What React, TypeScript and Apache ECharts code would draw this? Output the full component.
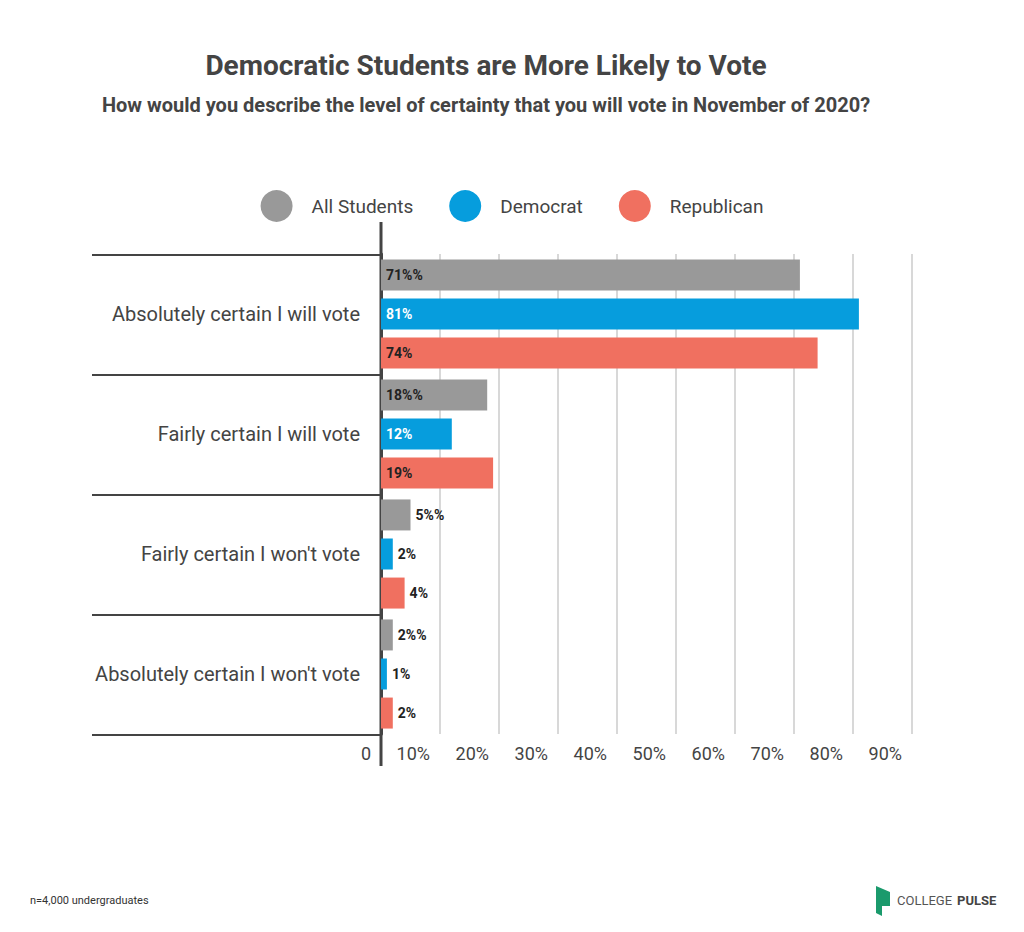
import React, { useEffect, useRef } from 'react';
import * as echarts from 'echarts';

const categories = [
  'Absolutely certain I will vote',
  'Fairly certain I will vote',
  "Fairly certain I won't vote",
  "Absolutely certain I won't vote",
];
const allStudents = [71, 18, 5, 2];
const democrat = [81, 12, 2, 1];
const republican = [74, 19, 4, 2];
const xTicks = [0, 10, 20, 30, 40, 50, 60, 70, 80, 90];

const FONT = 'Roboto, "Noto Sans", sans-serif';

const barData = (vals: number[], suffix: string, insideColor: string) =>
  vals.map((v) => ({
    value: v,
    label: v >= 10
      ? { position: 'insideLeft', distance: 5, color: insideColor, formatter: `${v}${suffix}` }
      : { position: 'right', distance: 5, color: '#222', formatter: `${v}${suffix}` },
  }));

const App: React.FC = () => {
  const ref = useRef<HTMLDivElement>(null);

  useEffect(() => {
    document.body.style.margin = '0';
    if (!ref.current) return;
    const chart = echarts.init(ref.current, null, { renderer: 'svg' });
    const seriesBase = {
      type: 'bar',
      barWidth: 31,
      barGap: '26%',
      label: { show: true, fontFamily: FONT, fontSize: 14, fontWeight: 'bold' },
    };
    chart.setOption({
      animation: false,
      backgroundColor: '#fff',
      title: [
        {
          text: 'Democratic Students are More Likely to Vote',
          left: 481, top: 46, textAlign: 'center',
          textStyle: { fontFamily: FONT, fontSize: 28, fontWeight: 'bold', color: '#444' },
        },
        {
          text: 'How would you describe the level of certainty that you will vote in November of 2020?',
          left: 481, top: 90, textAlign: 'center',
          textStyle: { fontFamily: FONT, fontSize: 20, fontWeight: 'bold', color: '#444' },
        },
      ],
      legend: {
        top: 185, left: 'center',
        icon: 'circle', itemWidth: 32, itemHeight: 32, itemGap: 36,
        textStyle: { fontFamily: FONT, fontSize: 19, color: '#444', padding: [0, 0, 0, 14] },
        data: ['All Students', 'Democrat', 'Republican'],
      },
      grid: { left: 381, right: 112, top: 254, bottom: 198 },
      xAxis: {
        type: 'value', min: 0, max: 90, interval: 10,
        axisLine: { show: false },
        axisTick: { show: false },
        splitLine: { show: true, lineStyle: { color: '#d8d8d8', width: 2 } },
        axisLabel: {
          align: 'right', margin: 10, padding: [0, 10, 0, 0],
          fontFamily: FONT, fontSize: 18, color: '#444',
          formatter: (v: number) => (xTicks.includes(v) ? (v === 0 ? '0' : `${v}%`) : ''),
        },
      },
      yAxis: {
        type: 'category', data: categories, inverse: true,
        axisLine: { show: true, lineStyle: { color: '#444', width: 3 } },
        axisTick: { show: false },
        axisLabel: { margin: 21, fontFamily: FONT, fontSize: 20, color: '#444' },
      },
      series: [
        { ...seriesBase, name: 'All Students', itemStyle: { color: '#999999' }, data: barData(allStudents, '%%', '#222') },
        { ...seriesBase, name: 'Democrat', itemStyle: { color: '#069ddd' }, data: barData(democrat, '%', '#fff') },
        { ...seriesBase, name: 'Republican', itemStyle: { color: '#f07060' }, data: barData(republican, '%', '#222') },
      ],
      graphic: [
        ...[255, 375, 495, 615, 735].map((y) => ({
          type: 'line', shape: { x1: 92, y1: y, x2: 380, y2: y },
          style: { stroke: '#444', lineWidth: 2 },
        })),
        { type: 'line', shape: { x1: 381, y1: 222, x2: 381, y2: 766 }, style: { stroke: '#444', lineWidth: 3 } },
        {
          type: 'text', left: 30, top: 895,
          style: { text: 'n=4,000 undergraduates', font: `11px ${FONT}`, fill: '#333' },
        },
        {
          type: 'polygon',
          shape: { points: [[876, 886], [890, 892], [890, 906], [882, 906], [882, 916], [876, 913]] },
          style: { fill: '#1a9a6c' },
        },
        {
          type: 'text', left: 897, top: 894,
          style: { text: 'COLLEGE', font: `13px ${FONT}`, fill: '#555' },
        },
        {
          type: 'text', left: 957, top: 894,
          style: { text: 'PULSE', font: `bold 13px ${FONT}`, fill: '#444' },
        },
      ],
    });
    return () => chart.dispose();
  }, []);

  return <div ref={ref} style={{ width: 1024, height: 932 }} />;
};

export default App;
